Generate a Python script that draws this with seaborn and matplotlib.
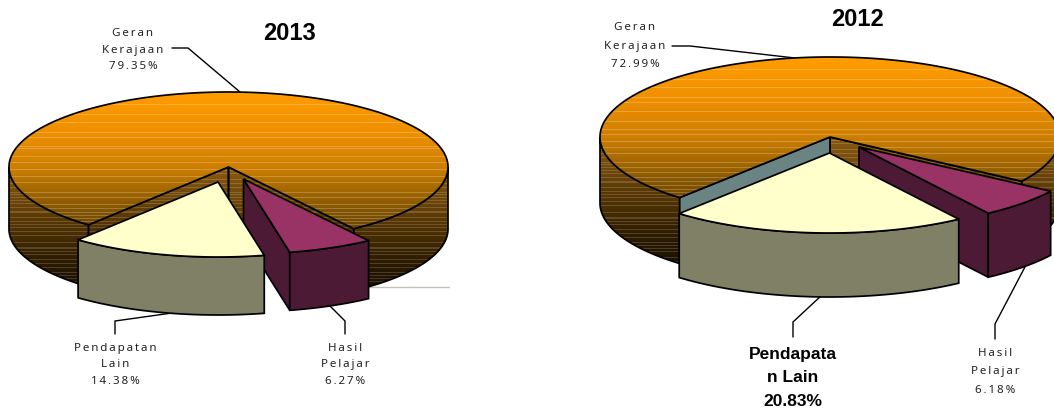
import numpy as np
import matplotlib
matplotlib.use("Agg")
import matplotlib.pyplot as plt
from matplotlib.patches import Polygon
import seaborn as sns

# ---- data ----
years = ["2013", "2012"]
geran_kerajaan = [79.35, 72.99]
hasil_pelajar = [6.27, 6.18]
pendapatan_lain = [14.38, 20.83]

sns.set_theme(style="white")
plt.rcParams['font.family'] = ['Noto Sans', 'DejaVu Sans']

W, H = 1054, 414
fig = plt.figure(figsize=(W / 100, H / 100), dpi=100)
ax = fig.add_axes([0, 0, 1, 1])

TOP = sns.blend_palette(['#FF9C00', '#F09000', '#CC7E00', '#8A5800', '#5E3A00'], 64)
SIDE = sns.blend_palette(['#8A5A10', '#5F3C05', '#2E1C00', '#100800'], 64)
LW = 1.25


def pt(c, rx, ry, a, dy=0.0):
    a = np.radians(a)
    return np.column_stack([c[0] + rx * np.sin(a), c[1] - ry * np.cos(a) + dy])


def arc(c, rx, ry, a0, a1, dy=0.0):
    return pt(c, rx, ry, np.linspace(a0, a1, max(int(abs(a1 - a0)) * 2, 2)), dy)


def extrude(upper, d):
    low = upper + np.array([0, d])
    return np.vstack([upper, low[::-1]])


def striped(y0, y1, palette, sparse):
    n = int(y1 - y0)
    cols = np.array(palette)[(np.linspace(0, 1, n) * (len(palette) - 1)).astype(int)]
    for i in range(n):
        t = i / n
        period = (int(13 - 11 * t) if sparse else 3 + (i // 9) % 3)
        if i % period == 0:
            cols[i] = cols[i] + (1 - cols[i]) * (0.22 if sparse else 0.16)
    return cols[:, None, :]


def grad_poly(xy, y0, y1, palette, sparse, z):
    poly = Polygon(xy, closed=True, fc='none', ec='black', lw=LW, zorder=z + 0.1)
    ax.add_patch(poly)
    im = ax.imshow(striped(y0, y1, palette, sparse), extent=(0, W, y1, y0), aspect='auto',
                   zorder=z, interpolation='nearest')
    im.set_clip_path(Polygon(xy, closed=True, transform=ax.transData))


def solid(xy, color, z):
    ax.add_patch(Polygon(xy, closed=True, fc=color, ec='black', lw=LW, zorder=z))


def pie3d(values, c, rx, ry, depth, slice_depth, start, offsets, main_wall, z=2):
    geran, hasil, lain = values
    a_main0 = start                              # clockwise from the top
    a_main1 = start + geran * 3.6
    a_h0 = a_main1 - 360
    a_h1 = a_h0 + hasil * 3.6
    a_l0 = a_h1
    a_l1 = a_l0 + lain * 3.6
    y_top = c[1] - ry

    # main slice: outer rim, cut walls, top
    apex = np.array([c])
    left = arc(c, rx, ry, a_main0, 270)
    right = arc(c, rx, ry, 90, a_h0)
    grad_poly(extrude(left, depth), c[1], c[1] + ry + depth, SIDE, False, z)
    grad_poly(extrude(right, depth), c[1], c[1] + ry + depth, SIDE, False, z)
    wall_r = np.vstack([apex, pt(c, rx, ry, [a_h0])])
    wall_l = np.vstack([apex, pt(c, rx, ry, [a_main0])])
    grad_poly(extrude(wall_r, depth), c[1], c[1] + ry + depth, SIDE, False, z + 1)
    if main_wall is None:
        grad_poly(extrude(wall_l, depth), c[1], c[1] + ry + depth, SIDE, False, z + 1)
    else:
        solid(extrude(wall_l, depth), main_wall, z + 1.5)
    top = np.vstack([apex, arc(c, rx, ry, a_main0, a_main1)])
    grad_poly(top, y_top, c[1] + ry, TOP, True, z + 2)

    # exploded slices
    for a0, a1, off, col_top, col_wall, col_rim, zz in [
        (a_h0, a_h1, offsets[0], '#993366', '#4D1A36', '#4D1A36', z + 3),
        (a_l0, a_l1, offsets[1], '#FFFFCC', '#808066', '#808066', z + 6),
    ]:
        cc = (c[0] + off[0], c[1] + off[1])
        ap = np.array([cc])
        if a1 < 180:
            solid(extrude(np.vstack([ap, pt(cc, rx, ry, [a1])]), slice_depth), col_wall, zz)
        if a0 > 180:
            solid(extrude(np.vstack([ap, pt(cc, rx, ry, [a0])]), slice_depth), col_wall, zz)
        solid(extrude(arc(cc, rx, ry, a0, a1), slice_depth), col_rim, zz + 0.5)
        solid(np.vstack([ap, arc(cc, rx, ry, a0, a1)]), col_top, zz + 1)


def spaced(s):
    return "\n".join("\u2009".join(line) for line in s.split("\n"))


def label(x, y, s, ls=1.72):
    ax.text(x, y, spaced(s), ha='center', va='center', fontsize=8.3, color='#222222',
            linespacing=ls, zorder=20)


def leader(xs, ys):
    ax.plot(xs, ys, color='black', lw=1.0, zorder=1, solid_joinstyle='miter')


# ---- 2013 ----
v13 = (geran_kerajaan[0], hasil_pelajar[0], pendapatan_lain[0])
pie3d(v13, (228.5, 168), 219.5, 75, 62, 58, 219.6, ((15, 12), (-10.5, 15)), None)
ax.plot([366, 449], [288, 288], color='#C4C2B8', lw=1.0, zorder=1)
leader([172, 188, 240], [49, 49, 93])
leader([115, 115, 172], [335, 322, 314])
leader([345, 345, 330], [335, 322, 307])
ax.text(290, 33, years[0], ha='center', va='center', fontsize=17, fontweight='bold',
        family='Liberation Sans', color='black')
label(133, 50, f"Geran\nKerajaan\n{v13[0]:.2f}%")
label(115, 365, f"Pendapatan\nLain\n{v13[2]:.2f}%")
label(345, 365, f"Hasil\nPelajar\n{v13[1]:.2f}%")

# ---- 2012 ----
v12 = (geran_kerajaan[1], hasil_pelajar[1], pendapatan_lain[1])
pie3d(v12, (830, 138), 230, 80, 66, 64, 220.8, ((29, 10), (-0.5, 16)), '#698483')
leader([672, 690, 795], [47, 47, 59])
leader([793, 793, 822], [338, 323, 296])
leader([995, 995, 1026], [340, 325, 266])
ax.text(857, 20, years[1], ha='center', va='center', fontsize=17, fontweight='bold',
        family='Liberation Sans', color='black')
label(635, 46, f"Geran\nKerajaan\n{v12[0]:.2f}%", ls=1.9)
label(995, 372, f"Hasil\nPelajar\n{v12[1]:.2f}%", ls=1.9)
ax.text(793, 378, f"Pendapata\nn Lain\n{v12[2]:.2f}%", ha='center', va='center',
        fontsize=12.5, fontweight='bold', family='Liberation Sans', color='black',
        linespacing=1.68, zorder=20)

ax.set_xlim(0, W)
ax.set_ylim(H, 0)
ax.axis('off')
fig.savefig("out.png", dpi=100, facecolor='white')
